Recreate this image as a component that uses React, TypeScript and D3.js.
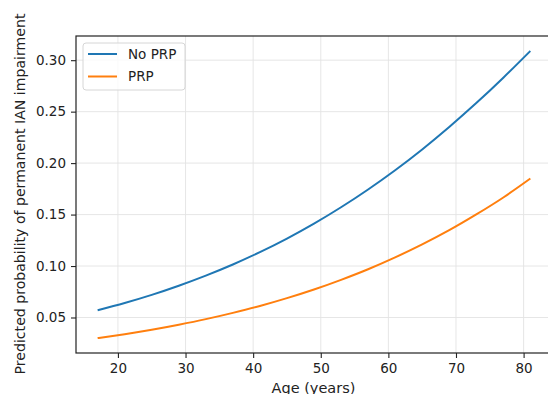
import { useEffect, useRef } from 'react';
import * as d3 from 'd3';

const ages = [17, 21, 25, 29, 33, 37, 41, 45, 49, 53, 57, 61, 65, 69, 73, 77, 81];
const noPrp = [0.057, 0.0641, 0.072, 0.0809, 0.0907, 0.1015, 0.1135, 0.1267, 0.1412, 0.1571, 0.1744, 0.1931, 0.2133, 0.2351, 0.2583, 0.283, 0.309];
const prp = [0.03, 0.0338, 0.0381, 0.043, 0.0484, 0.0545, 0.0612, 0.0688, 0.0772, 0.0866, 0.0969, 0.1084, 0.121, 0.1348, 0.1501, 0.1666, 0.185];
const xTicks = [20, 30, 40, 50, 60, 70, 80];
const yTicks = [0.05, 0.1, 0.15, 0.2, 0.25, 0.3];
const seriesNames = ['No PRP', 'PRP'];
const colors = ['#1f77b4', '#ff7f0e'];

export default function App() {
  const svgRef = useRef<SVGSVGElement | null>(null);

  useEffect(() => {
    if (!svgRef.current) return;
    document.body.style.margin = '0';
    const svg = d3.select(svgRef.current);
    svg.selectAll('*').remove();

    const width = 548;
    const height = 394;
    const margin = { top: 36, right: -4, bottom: 41, left: 76 };
    const font = 'DejaVu Sans, sans-serif';

    const x = d3.scaleLinear().domain([13.8, 84.2]).range([margin.left, width - margin.right]);
    const y = d3.scaleLinear().domain([0.0155, 0.3235]).range([height - margin.bottom, margin.top]);

    // grid
    const grid = svg.append('g');
    xTicks.forEach(t => {
      grid.append('line')
        .attr('x1', x(t)).attr('x2', x(t))
        .attr('y1', margin.top).attr('y2', height - margin.bottom)
        .attr('stroke', '#e3e3e3').attr('stroke-width', 0.9);
    });
    yTicks.forEach(t => {
      grid.append('line')
        .attr('x1', margin.left).attr('x2', width - margin.right)
        .attr('y1', y(t)).attr('y2', y(t))
        .attr('stroke', '#e3e3e3').attr('stroke-width', 0.9);
    });

    // curves
    const line = d3.line<number>()
      .x((_, i) => x(ages[i]))
      .y(d => y(d))
      .curve(d3.curveMonotoneX);
    [noPrp, prp].forEach((s, i) => {
      svg.append('path')
        .attr('d', line(s))
        .attr('fill', 'none')
        .attr('stroke', colors[i])
        .attr('stroke-width', 2);
    });

    // axes
    const xAxis = svg.append('g')
      .attr('transform', `translate(0,${height - margin.bottom})`)
      .call(d3.axisBottom(x).tickValues(xTicks).tickSize(5).tickPadding(5).tickFormat(d3.format('d')));
    const yAxis = svg.append('g')
      .attr('transform', `translate(${margin.left},0)`)
      .call(d3.axisLeft(y).tickValues(yTicks).tickSize(5).tickPadding(5).tickFormat(d3.format('.2f')));
    [xAxis, yAxis].forEach(a => {
      a.select('.domain').remove();
      a.selectAll('line').attr('stroke', '#222').attr('stroke-width', 1.1);
      a.selectAll('text').attr('fill', '#222').style('font-family', font).style('font-size', '13.5px');
    });

    // spines
    svg.append('rect')
      .attr('x', margin.left).attr('y', margin.top)
      .attr('width', width - margin.right - margin.left)
      .attr('height', height - margin.bottom - margin.top)
      .attr('fill', 'none').attr('stroke', '#222').attr('stroke-width', 1.2);

    // labels
    svg.append('text')
      .attr('x', 313.5)
      .attr('y', 392.5)
      .attr('text-anchor', 'middle')
      .style('font-family', font).style('font-size', '14.5px')
      .attr('fill', '#222')
      .text('Age (years)');
    svg.append('text')
      .attr('transform', `translate(24.5,194) rotate(-90)`)
      .attr('text-anchor', 'middle')
      .style('font-family', font).style('font-size', '14.1px')
      .attr('fill', '#222')
      .text('Predicted probability of permanent IAN impairment');

    // legend
    const lg = svg.append('g');
    lg.append('rect')
      .attr('x', 83).attr('y', 43).attr('width', 102).attr('height', 47)
      .attr('rx', 3)
      .attr('fill', 'white').attr('fill-opacity', 0.8)
      .attr('stroke', '#d6d6d6').attr('stroke-width', 1);
    seriesNames.forEach((name, i) => {
      const ly = 54 + i * 22.5;
      lg.append('line')
        .attr('x1', 88).attr('x2', 117).attr('y1', ly).attr('y2', ly)
        .attr('stroke', colors[i]).attr('stroke-width', 2);
      lg.append('text')
        .attr('x', 128).attr('y', ly)
        .attr('dy', '0.35em')
        .style('font-family', font).style('font-size', '13.5px')
        .attr('fill', '#222')
        .text(name);
    });
  }, []);

  return <svg ref={svgRef} width={548} height={394} style={{ display: 'block', overflow: 'hidden' }}></svg>;
}
